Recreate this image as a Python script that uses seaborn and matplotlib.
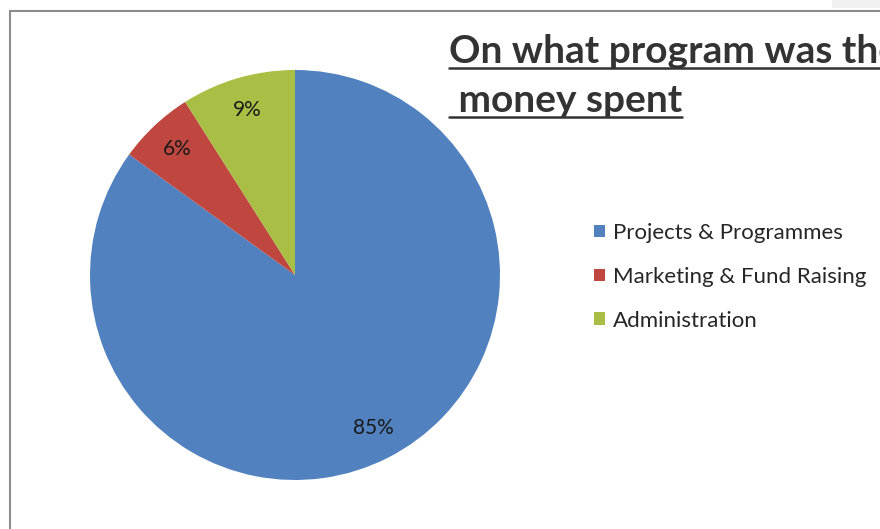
import seaborn as sns
import matplotlib.pyplot as plt
from matplotlib.lines import Line2D
from matplotlib.patches import Rectangle

# data
programs = ['Projects & Programmes', 'Marketing & Fund Raising', 'Administration']
shares = [85, 6, 9]
colors = ['#5182BF', '#C0473F', '#A9BE45']
# the title runs past the right edge in the original chart, so it is clipped there
title_lines = ['On what program was the', ' money spent']

sns.set_theme(style='white')
plt.rcParams['font.family'] = ['Lato', 'DejaVu Sans']

W, H = 880, 529
fig = plt.figure(figsize=(W / 100, H / 100), dpi=100)

# pie axes: square box of 410 px
ax = fig.add_axes([90 / W, 49 / H, 410 / W, 410 / H])
wedges, texts, autotexts = ax.pie(shares, colors=colors, startangle=90, counterclock=False,
                                  autopct='%1.0f%%', pctdistance=0.84,
                                  wedgeprops={'linewidth': 0},
                                  textprops={'fontsize': 15, 'color': '#1a1a1a'})
ax.set_xlim(-1, 1)
ax.set_ylim(-1, 1)
ax.set_aspect('equal')

# chart border (only top and left visible)
fig.add_artist(Line2D([10 / W, 10 / W], [0, 1 - 11 / H], color='#8c8c8c', lw=1.5))
fig.add_artist(Line2D([10 / W, 1], [1 - 11 / H, 1 - 11 / H], color='#8c8c8c', lw=1.5))
fig.add_artist(Rectangle((832 / W, 1 - 8 / H), 48 / W, 8 / H, color='#f0f0f0', lw=0))

# title with underline
title_texts = []
for i, line in enumerate(title_lines):
    t = fig.text(449 / W, 1 - (63 + 49 * i) / H, line, fontsize=28, fontweight='bold',
                 color='#333333', va='baseline', ha='left')
    title_texts.append(t)

fig.legend(wedges, programs, loc='upper left', bbox_to_anchor=(594 / W, 1 - 223 / H),
           frameon=False, fontsize=16, handlelength=0.5, handleheight=0.5,
           handletextpad=0.35, labelspacing=1.07, borderaxespad=0, borderpad=0)

fig.canvas.draw()
r = fig.canvas.get_renderer()
for i, t in enumerate(title_texts):
    bb = t.get_window_extent(renderer=r)
    y = (H - (63 + 49 * i) - 5) / H
    fig.add_artist(Line2D([bb.x0 / W, min(bb.x1, W) / W], [y, y], color='#333333', lw=1.8))

fig.savefig('out.png', dpi=100)
